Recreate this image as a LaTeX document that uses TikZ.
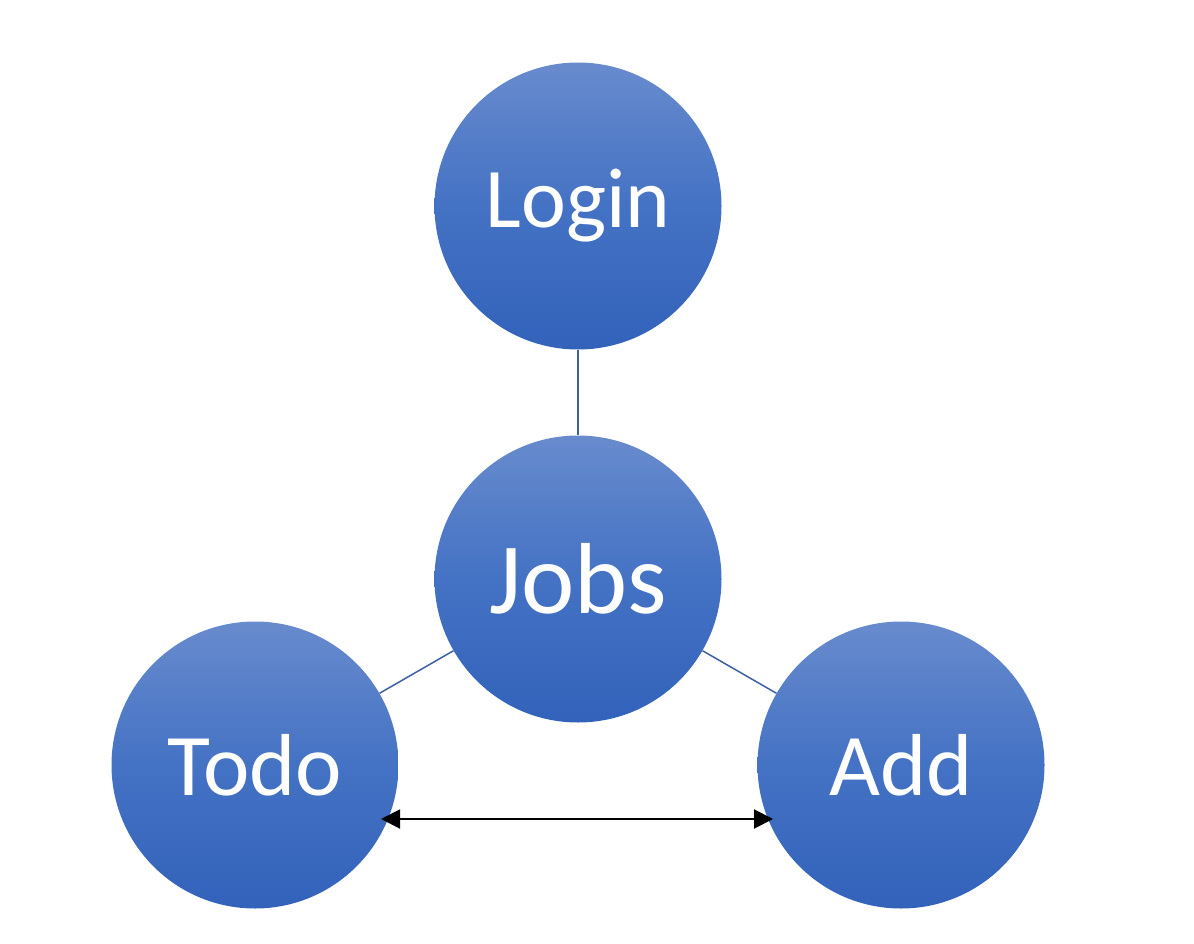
\documentclass[tikz,border=0pt]{standalone}
\usepackage{fontspec}
\setmainfont{Carlito}
\usetikzlibrary{arrows.meta,calc}
\definecolor{topc}{RGB}{104,139,205}
\definecolor{midc}{RGB}{68,114,196}
\definecolor{botc}{RGB}{50,98,186}
\definecolor{linec}{RGB}{60,95,165}
\tikzset{
  bubble/.style={circle, minimum size=287pt, inner sep=0pt, top color=topc, bottom color=botc, middle color=midc, text=white},
  link/.style={draw=linec, line width=1.5pt},
  dbl/.style={black, line width=2pt, {Triangle[length=19pt,width=19pt]}-{Triangle[length=19pt,width=19pt]}}
}
\begin{document}
\begin{tikzpicture}[x=1pt,y=-1pt]
\useasboundingbox (0,0) rectangle (1194,944);
\node[bubble, font=\fontsize{85}{90}\selectfont] (login) at (578,206) {Login};
\node[bubble, font=\fontsize{101}{110}\selectfont] (jobs) at (578,579) {Jobs};
\node[bubble, font=\fontsize{88}{95}\selectfont] (todo) at (255,765) {Todo};
\node[bubble, font=\fontsize{88}{95}\selectfont] (add) at (901,765) {Add};
\draw[link] (login) -- (jobs);
\draw[link] (jobs) -- (todo);
\draw[link] (jobs) -- (add);
\coordinate (tl) at ($(todo.center)+(126,54)$);
\coordinate (ar) at ($(add.center)+(-128,54)$);
\draw[dbl] (tl) -- (ar);
\end{tikzpicture}
\end{document}
